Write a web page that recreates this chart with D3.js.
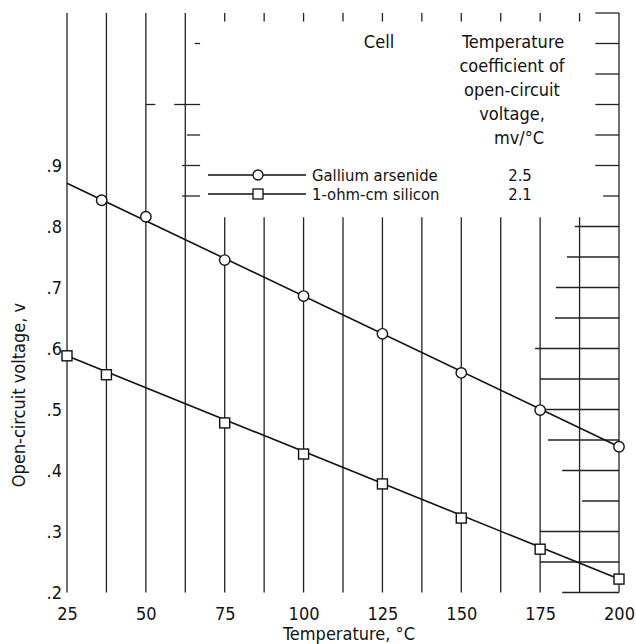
<!DOCTYPE html>
<html>
<head>
<meta charset="utf-8">
<script src="https://cdn.jsdelivr.net/npm/d3@7"></script>
<style>
  html, body { margin: 0; padding: 0; background: #fff; }
  svg { display: block; }
  text { font-family: "Liberation Sans Narrow", "DejaVu Sans Condensed", "Arial Narrow", "Liberation Sans", sans-serif; fill: #111; }
</style>
</head>
<body>
<script>
// ---------- data ----------
const gaasTemps  = [36, 50, 75, 100, 125, 150, 175, 200];
const gaasValues = [0.843, 0.816, 0.745, 0.686, 0.624, 0.560, 0.499, 0.439];
const gaasFitTemps  = [25, 200];
const gaasFitValues = [0.871, 0.439];

const siTemps  = [25, 37.5, 75, 100, 125, 150, 175, 200];
const siValues = [0.588, 0.557, 0.478, 0.427, 0.378, 0.322, 0.271, 0.222];
const siFitTemps  = [25, 200];
const siFitValues = [0.588, 0.222];

const xTickValues = [25, 50, 75, 100, 125, 150, 175, 200];
const yTickValues = [0.2, 0.3, 0.4, 0.5, 0.6, 0.7, 0.8, 0.9];

// grid: vertical lines every 12.5 C
const fullGridTemps = [25, 37.5, 50, 62.5, 200];
const partGridTemps = [75, 87.5, 100, 112.5, 125, 137.5, 150, 162.5, 175, 187.5];
const partGridTopValue = 0.815;
const topTickValues = [1.136, 1.15];

// grid: horizontal partial lines every 0.05 V (right side), with start temperature
const hGridValues = [1.15, 1.10, 1.05, 1.00, 0.95, 0.90, 0.85, 0.80, 0.75, 0.70, 0.65, 0.60, 0.55, 0.50, 0.45, 0.40, 0.35, 0.30, 0.25, 0.20];
const hGridStarts = [192.5, 192.5, 192.5, 192.5, 192.5, 192.5, 195, 186, 183.5, 180, 179.7, 173.4, 175, 175.6, 177.5, 182, 188.3, 175, 175, 182];
// left-side short fragments [value, fromTemp, toTemp]
const hLeftValues = [1.10, 1.00, 1.00, 0.95, 0.90, 0.85];
const hLeftFrom   = [65.5, 50, 59, 63, 61.5, 61.5];
const hLeftTo     = [67.2, 53, 67.2, 67.2, 67.2, 67.2];

const legendNames  = ["Gallium arsenide", "1-ohm-cm silicon"];
const legendCoeffs = ["2.5", "2.1"];
const headerCell = "Cell";
const headerCoeff = ["Temperature", "coefficient of", "open-circuit", "voltage,", "mv/°C"];

// ---------- drawing ----------
const W = 636, H = 644;
const svg = d3.select("body").append("svg").attr("width", W).attr("height", H);
svg.append("rect").attr("width", W).attr("height", H).attr("fill", "#fff");

const x = d3.scaleLinear().domain([25, 200]).range([67, 619]);
const y = d3.scaleLinear().domain([0.2, 1.15]).range([592.5, 13]);

const grid = svg.append("g").attr("stroke", "#222").attr("stroke-width", 1.3).attr("fill", "none");

grid.selectAll("line.vf").data(fullGridTemps).join("line")
  .attr("x1", d => x(d)).attr("x2", d => x(d))
  .attr("y1", y(1.15)).attr("y2", y(0.2));

grid.selectAll("line.vp").data(partGridTemps).join("line")
  .attr("x1", d => x(d)).attr("x2", d => x(d))
  .attr("y1", y(partGridTopValue)).attr("y2", y(0.2));

grid.selectAll("line.vt").data(partGridTemps).join("line")
  .attr("x1", d => x(d)).attr("x2", d => x(d))
  .attr("y1", y(topTickValues[1])).attr("y2", y(topTickValues[0]));

grid.selectAll("line.hr").data(hGridValues).join("line")
  .attr("x1", (d, i) => x(hGridStarts[i])).attr("x2", x(200))
  .attr("y1", d => y(d)).attr("y2", d => y(d));

grid.selectAll("line.hl").data(hLeftValues).join("line")
  .attr("x1", (d, i) => x(hLeftFrom[i])).attr("x2", (d, i) => x(hLeftTo[i]))
  .attr("y1", d => y(d)).attr("y2", d => y(d));

// axes (labels only)
const fmtY = d => d3.format(".1f")(d).replace(/^0/, "");
const yAxis = svg.append("g").attr("transform", `translate(${x(25)},0)`)
  .call(d3.axisLeft(y).tickValues(yTickValues).tickFormat(fmtY).tickSize(0).tickPadding(5));
yAxis.select(".domain").remove();
yAxis.selectAll("text").attr("font-size", 18).attr("font-family", null);

const xAxis = svg.append("g").attr("transform", `translate(0,${y(0.2)})`)
  .call(d3.axisBottom(x).tickValues(xTickValues).tickFormat(d3.format("d")).tickSize(0).tickPadding(15));
xAxis.select(".domain").remove();
xAxis.selectAll("text").attr("font-size", 18).attr("font-family", null);

svg.append("text").attr("x", 349).attr("y", 640).attr("text-anchor", "middle")
  .attr("font-size", 18).text("Temperature, °C");
svg.append("text").attr("transform", "translate(25,395) rotate(-90)").attr("text-anchor", "middle")
  .attr("font-size", 18).text("Open-circuit voltage, v");

// data lines
const line = d3.line().x(d => x(d[0])).y(d => y(d[1]));
const series = svg.append("g").attr("fill", "none").attr("stroke", "#111").attr("stroke-width", 1.6);
series.append("path").attr("d", line(d3.zip(gaasFitTemps, gaasFitValues)));
series.append("path").attr("d", line(d3.zip(siFitTemps, siFitValues)));

// markers
svg.append("g").selectAll("circle").data(d3.zip(gaasTemps, gaasValues)).join("circle")
  .attr("cx", d => x(d[0])).attr("cy", d => y(d[1])).attr("r", 5.2)
  .attr("fill", "#fff").attr("stroke", "#111").attr("stroke-width", 1.4);
svg.append("g").selectAll("rect").data(d3.zip(siTemps, siValues)).join("rect")
  .attr("x", d => x(d[0]) - 5).attr("y", d => y(d[1]) - 5).attr("width", 10).attr("height", 10)
  .attr("fill", "#fff").attr("stroke", "#111").attr("stroke-width", 1.4);

// legend
const lg = svg.append("g");
const rowY = [175, 194];
lg.selectAll("line").data(rowY).join("line")
  .attr("x1", 208).attr("x2", 306).attr("y1", d => d).attr("y2", d => d)
  .attr("stroke", "#111").attr("stroke-width", 1.3);
lg.append("circle").attr("cx", 258).attr("cy", rowY[0]).attr("r", 5)
  .attr("fill", "#fff").attr("stroke", "#111").attr("stroke-width", 1.3);
lg.append("rect").attr("x", 253).attr("y", rowY[1] - 5).attr("width", 10).attr("height", 10)
  .attr("fill", "#fff").attr("stroke", "#111").attr("stroke-width", 1.3);
lg.selectAll("text.name").data(legendNames).join("text")
  .attr("x", 312).attr("y", (d, i) => rowY[i] + 6).attr("font-size", 16.5).text(d => d);
lg.selectAll("text.coef").data(legendCoeffs).join("text")
  .attr("x", 520).attr("y", (d, i) => rowY[i] + 6).attr("text-anchor", "middle").attr("font-size", 16.5).text(d => d);

svg.append("text").attr("x", 379).attr("y", 48).attr("text-anchor", "middle").attr("font-size", 18).text(headerCell);
const hdrX = [513, 512, 512, 512, 519];
svg.selectAll("text.hdr").data(headerCoeff).join("text")
  .attr("x", (d, i) => hdrX[i]).attr("y", (d, i) => 48 + i * 24)
  .attr("text-anchor", "middle").attr("font-size", 18).text(d => d);
</script>
</body>
</html>
